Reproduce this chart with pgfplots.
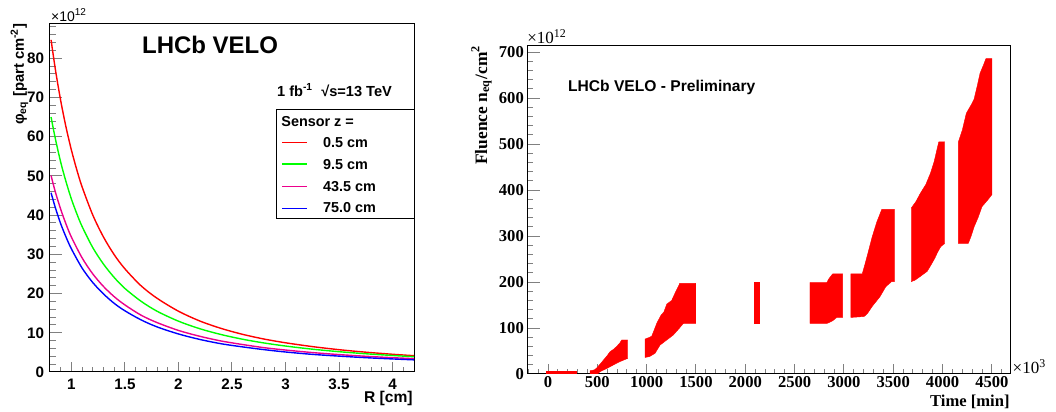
\documentclass[border=0pt]{standalone}
\usepackage{fontspec}
\setmainfont{Liberation Sans}
\newfontfamily\tms{Liberation Serif}
\usepackage{pgfplots}
\pgfplotsset{compat=1.18}
\begin{document}
\begin{tikzpicture}
\useasboundingbox (0,0) rectangle (528pt,206pt);
% ---------------- left panel ----------------
\begin{axis}[
  at={(25pt,20pt)}, anchor=south west, scale only axis,
  width=182pt, height=174.5pt,
  xmin=0.8, xmax=4.2, ymin=0, ymax=89,
  axis line style={line width=0.5pt},
  tick align=inside, xtick pos=lower, ytick pos=left,
  xtick={1,1.5,2,2.5,3,3.5,4},
  minor xtick={0.8,0.9,...,4.25},
  ytick={0,10,...,80},
  minor ytick={0,2,...,88},
  xtick style={line width=0.5pt,/pgfplots/major tick length=5pt,/pgfplots/minor tick length=2.5pt},
  ytick style={line width=0.5pt,/pgfplots/major tick length=6pt,/pgfplots/minor tick length=3pt},
  scaled ticks=false,
  /pgf/number format/assume math mode=true,
  /pgf/number format/1000 sep={},
  ticklabel style={font=\bfseries\fontsize{7.6}{9}\selectfont},
  yticklabel style={xshift=0.6pt},
  xticklabel style={yshift=0.2pt},
  clip=true,
]
\addplot[red, line width=0.7pt, smooth] coordinates {
(0.81,84.7) (0.85,77.2) (0.90,69.2) (0.95,62.4) (1.00,56.6) (1.05,51.6) (1.10,47.2)
(1.20,40.0) (1.30,34.4) (1.40,29.9) (1.50,26.3) (1.65,22.0) (1.80,18.8) (2.00,15.5)
(2.20,13.0) (2.40,11.1) (2.60,9.6) (2.80,8.4) (3.00,7.45) (3.25,6.48) (3.50,5.69)
(3.75,5.05) (4.00,4.52) (4.20,4.16)};
\addplot[green, line width=0.7pt, smooth] coordinates {
(0.81,65.0) (0.85,59.5) (0.90,53.5) (0.95,48.5) (1.00,44.1) (1.05,40.4) (1.10,37.1)
(1.20,31.7) (1.30,27.5) (1.40,24.1) (1.50,21.3) (1.65,18.05) (1.80,15.5) (2.00,12.96)
(2.20,11.03) (2.40,9.54) (2.60,8.35) (2.80,7.40) (3.00,6.62) (3.25,5.82) (3.50,5.18)
(3.75,4.65) (4.00,4.21) (4.20,3.9)};
\addplot[magenta, line width=0.7pt, smooth] coordinates {
(0.81,50.1) (0.85,45.9) (0.90,41.5) (0.95,37.7) (1.00,34.4) (1.10,29.1) (1.20,25.0)
(1.30,21.8) (1.40,19.2) (1.50,17.1) (1.65,14.5) (1.80,12.6) (2.00,10.6) (2.20,9.1)
(2.40,7.9) (2.60,7.0) (2.80,6.2) (3.00,5.6) (3.25,4.96) (3.50,4.44) (3.75,4.01)
(4.00,3.65) (4.20,3.4)};
\addplot[blue, line width=0.7pt, smooth] coordinates {
(0.81,45.7) (0.85,41.9) (0.90,37.8) (0.95,34.4) (1.00,31.4) (1.10,26.5) (1.20,22.8)
(1.30,19.9) (1.40,17.5) (1.50,15.6) (1.65,13.3) (1.80,11.5) (2.00,9.7) (2.20,8.3)
(2.40,7.2) (2.60,6.4) (2.80,5.7) (3.00,5.1) (3.25,4.5) (3.50,4.05) (3.75,3.65)
(4.00,3.33) (4.20,3.1)};
\end{axis}
% ---------------- right panel ----------------
\begin{axis}[
  at={(263.6pt,19pt)}, anchor=south west, scale only axis,
  width=241.6pt, height=164.15pt,
  xmin=-211, xmax=4688, ymin=0, ymax=714,
  axis line style={line width=0.5pt},
  tick align=inside, xtick pos=lower, ytick pos=left,
  xtick={0,500,...,4500},
  minor xtick={-200,-100,...,4600},
  ytick={0,100,...,700},
  minor ytick={0,20,...,700},
  xtick style={line width=0.5pt,/pgfplots/major tick length=5pt,/pgfplots/minor tick length=2.5pt},
  ytick style={line width=0.5pt,/pgfplots/major tick length=6.3pt,/pgfplots/minor tick length=3pt},
  scaled ticks=false,
  /pgf/number format/assume math mode=true,
  /pgf/number format/1000 sep={},
  ticklabel style={font=\tms\bfseries\fontsize{8.3}{10}\selectfont},
  xticklabel style={inner sep=1pt},
  yticklabel style={inner sep=1.5pt},
  clip=true,
]
% segment 1
\addplot[fill=red, draw=red, line width=0.2pt] coordinates {
(-18,-6) (290,-6) (290,7) (-18,7)} -- cycle;
% segment 2
\addplot[fill=red, draw=red, line width=0.2pt] coordinates {
(426,-6) (426,7) (470,9) (494,13) (530,22) (561,30) (600,40) (629,48.5) (660,53)
(697,60) (730,68) (747,74) (808,74) (808,34) (730,27) (662,19.6) (595,12) (527,5) (470,-6)} -- cycle;
% segment 3
\addplot[fill=red, draw=red, line width=0.2pt] coordinates {
(984,36) (984,76) (1020,79) (1051,82) (1075,95) (1102,110) (1143,127) (1175,135)
(1204,152) (1254,160) (1288,176) (1325,192) (1335,197) (1498,197) (1498,110)
(1372,110) (1339,101.5) (1300,92) (1271,85) (1204,74) (1136,63) (1085,45) (1030,38)} -- cycle;
% segment 4
\addplot[fill=red, draw=red, line width=0.2pt] coordinates {
(2090,110) (2090,199) (2145,199) (2145,110)} -- cycle;
% segment 5
\addplot[fill=red, draw=red, line width=0.2pt] coordinates {
(2656,110) (2656,199) (2827,199) (2847,207) (2887,218) (2987,218) (2987,123)
(2927,123) (2887,116) (2840,111) (2827,110)} -- cycle;
% segment 6
\addplot[fill=red, draw=red, line width=0.2pt] coordinates {
(3070,123) (3070,218) (3186,218) (3210,236) (3245,264) (3285,297) (3334,331)
(3384,358) (3512,358) (3512,201) (3484,201) (3425,190) (3365,168) (3285,146.5)
(3240,132) (3205,125)} -- cycle;
% segment 7
\addplot[fill=red, draw=red, line width=0.2pt] coordinates {
(3683,201) (3683,361) (3730,375) (3775,393) (3830,412) (3878,437) (3915,462)
(3942,487) (3962,505) (4022,505) (4022,284) (3982,277) (3950,265) (3922,252)
(3880,236) (3843,223) (3760,210) (3720,204)} -- cycle;
% segment 8
\addplot[fill=red, draw=red, line width=0.2pt] coordinates {
(4161,284) (4161,505) (4200,530) (4241,567) (4300,589) (4320,598) (4350,625)
(4380,654) (4415,672) (4440,686) (4500,686) (4500,390) (4460,379) (4400,364)
(4360,340) (4320,320) (4290,300) (4261,284)} -- cycle;
\end{axis}
% ---------------- texts (left) ----------------
\node[rotate=90, anchor=base east, inner sep=0pt, font=\bfseries\fontsize{7.4}{9}\selectfont]
  at (12pt,194.5pt) {φ\textsubscript{eq} [part cm\textsuperscript{-2}]};
\node[anchor=base west, inner sep=0pt, font=\fontsize{7}{8}\selectfont]
  at (25.35pt,195.15pt) {×10\textsuperscript{12}};
\node[anchor=base west, inner sep=0pt, font=\bfseries\fontsize{12}{14}\selectfont]
  at (70.85pt,179pt) {LHCb VELO};
\node[anchor=base west, inner sep=0pt, font=\bfseries\fontsize{7.3}{9}\selectfont]
  at (138.35pt,157.65pt) {1 fb\textsuperscript{-1}\ \ √s=13 TeV};
\node[anchor=base east, inner sep=0pt, font=\bfseries\fontsize{7.8}{9}\selectfont]
  at (206.5pt,4.65pt) {R [cm]};
% legend
\fill[white] (138.35pt,96.5pt) rectangle (207pt,151pt);
\draw[line width=0.5pt] (138.35pt,96.5pt) rectangle (207pt,151pt);
\node[anchor=base west, inner sep=0pt, font=\bfseries\fontsize{7.2}{9}\selectfont]
  at (140.5pt,142.65pt) {Sensor z =};
\draw[red, line width=0.5pt] (141.15pt,134.65pt) -- (153.35pt,134.65pt);
\draw[green, line width=0.9pt] (141.15pt,123.85pt) -- (153.35pt,123.85pt);
\draw[magenta, line width=0.7pt] (141.15pt,112.65pt) -- (153.35pt,112.65pt);
\draw[blue, line width=0.5pt] (141.15pt,101.85pt) -- (153.35pt,101.85pt);
\node[anchor=base west, inner sep=0pt, font=\bfseries\fontsize{7.2}{9}\selectfont]
  at (161.35pt,132.15pt) {0.5 cm};
\node[anchor=base west, inner sep=0pt, font=\bfseries\fontsize{7.2}{9}\selectfont]
  at (161.35pt,121.35pt) {9.5 cm};
\node[anchor=base west, inner sep=0pt, font=\bfseries\fontsize{7.2}{9}\selectfont]
  at (161.35pt,110.15pt) {43.5 cm};
\node[anchor=base west, inner sep=0pt, font=\bfseries\fontsize{7.2}{9}\selectfont]
  at (161.35pt,99.65pt) {75.0 cm};
% ---------------- texts (right) ----------------
\node[rotate=90, anchor=base east, inner sep=0pt, font=\tms\bfseries\fontsize{8.7}{10}\selectfont]
  at (243.5pt,183.5pt) {Fluence n\textsubscript{eq}/cm\textsuperscript{2}};
\node[anchor=base west, inner sep=0pt, font=\tms\fontsize{8.5}{10}\selectfont]
  at (263.5pt,184.35pt) {×10\textsuperscript{12}};
\node[anchor=base west, inner sep=0pt, font=\bfseries\fontsize{7.8}{9}\selectfont]
  at (283.85pt,160.15pt) {LHCb VELO - Preliminary};
\node[anchor=base west, inner sep=0pt, font=\tms\fontsize{8.5}{10}\selectfont]
  at (506.15pt,19.35pt) {×10\textsuperscript{3}};
\node[anchor=base east, inner sep=0pt, font=\tms\bfseries\fontsize{8.3}{10}\selectfont]
  at (505pt,2.65pt) {Time [min]};
\end{tikzpicture}
\end{document}
